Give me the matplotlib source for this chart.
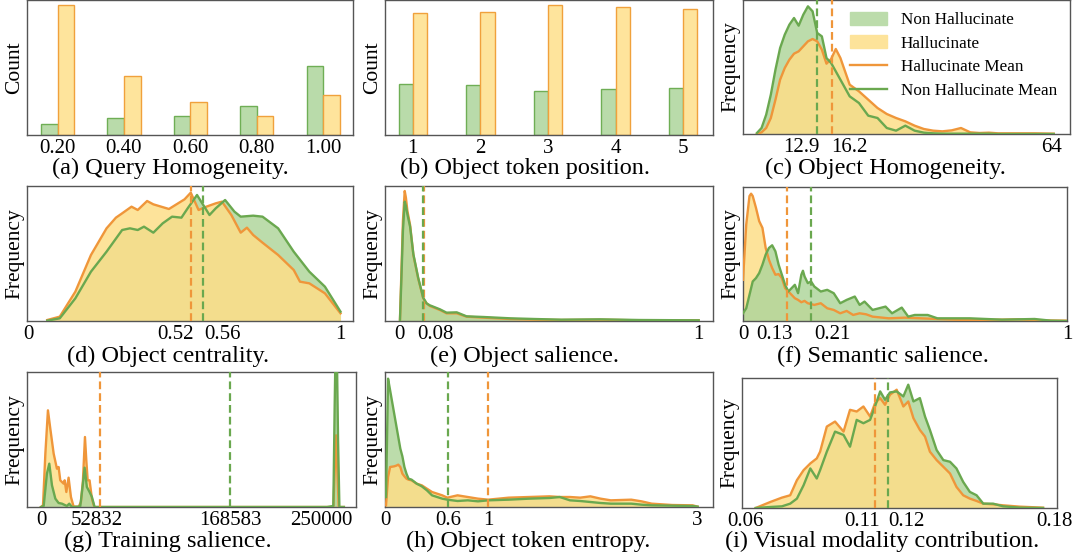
import matplotlib

matplotlib.use("Agg")
import matplotlib.pyplot as plt
from matplotlib.lines import Line2D
from matplotlib.patches import Patch
from matplotlib.transforms import ScaledTranslation

plt.rcParams["font.family"] = ["Liberation Serif", "DejaVu Serif"]

# ---------------- data ----------------
# (a) Query Homogeneity, counts
query_labels = ["0.20", "0.40", "0.60", "0.80", "1.00"]
query_non = [33, 50, 57, 87, 207]
query_hal = [388, 177, 99, 57, 120]

# (b) Object token position, counts
position_labels = ["1", "2", "3", "4", "5"]
position_non = [153, 150, 130, 136, 141]
position_hal = [365, 368, 388, 383, 377]

# (c) Object Homogeneity, density
homog_x = [0, 1, 2, 3, 4, 5, 6, 7, 8, 9, 10, 11, 12, 13, 14, 15, 16, 17, 18, 19, 20,
           22, 24, 26, 28, 30, 32, 34, 36, 38, 40, 42, 44, 46, 48, 50, 52, 56, 60, 64]
homog_non = [3, 18, 58, 118, 193, 258, 298, 328, 348, 325, 358, 383, 368, 303, 293, 228, 213, 188, 163, 138, 113,
             93, 55, 48, 18, 10, 25, 10, 4, 2, 1, 1, 1, 1, 1, 1, 0, 0, 0, 0]
homog_hal = [0, 5, 18, 48, 103, 163, 198, 223, 241, 248, 263, 278, 285, 278, 253, 211, 225, 255, 228, 188, 148,
             128, 103, 78, 60, 48, 38, 25, 15, 10, 8, 11, 18, 5, 3, 4, 2, 2, 2, 1]
homog_means = (16.2, 12.9)

# (d) Object centrality
central_x_hal = [0.06, 0.1, 0.15, 0.2, 0.25, 0.28, 0.3, 0.33, 0.35, 0.38, 0.4, 0.45, 0.5, 0.52, 0.545,
                 0.57, 0.6, 0.62, 0.65, 0.68, 0.7, 0.72, 0.75, 0.8, 0.85, 0.87, 0.9, 0.95, 1.0]
central_hal = [3, 13, 88, 198, 278, 310, 323, 343, 333, 360, 350, 336, 365, 385, 333,
               343, 353, 358, 318, 265, 280, 258, 235, 198, 153, 118, 113, 83, 23]
central_x_non = [0.06, 0.1, 0.15, 0.2, 0.25, 0.3, 0.325, 0.35, 0.37, 0.4, 0.43, 0.46, 0.49, 0.51,
                 0.54, 0.56, 0.58, 0.6, 0.63, 0.66, 0.68, 0.72, 0.75, 0.8, 0.85, 0.9, 0.95, 1.0]
central_non = [1, 8, 68, 148, 208, 273, 278, 273, 283, 265, 293, 313, 310, 338,
               378, 348, 318, 338, 363, 328, 313, 316, 313, 278, 208, 148, 103, 28]
central_means = (0.52, 0.56)

# (e) Object salience
obj_sal_x = [0, 0.005, 0.01, 0.016, 0.02, 0.025, 0.034, 0.045, 0.061, 0.078, 0.089, 0.1, 0.106,
             0.12, 0.134, 0.156, 0.19, 0.223, 0.28, 0.37, 0.45, 0.54, 0.67, 0.8, 1.0]
obj_sal_hal = [0, 150, 300, 390, 370, 330, 288, 198, 128, 68, 53, 45, 43,
               38, 33, 23, 23, 13, 10, 6, 4, 3, 4, 2, 2]
obj_sal_non = [0, 130, 270, 358, 345, 320, 283, 200, 130, 70, 53, 47, 45,
               40, 35, 25, 26, 14, 12, 8, 6, 4, 5, 3, 2]
obj_sal_means = (0.079, 0.078)

# (f) Semantic salience
sem_x_hal = [0, 0.01, 0.02, 0.025, 0.03, 0.04, 0.05, 0.06, 0.07, 0.08, 0.09, 0.1, 0.11, 0.12, 0.13,
             0.14, 0.15, 0.16, 0.17, 0.18, 0.19, 0.2, 0.22, 0.24, 0.26, 0.28, 0.3, 0.32, 0.34, 0.36,
             0.38, 0.4, 0.45, 0.5, 0.55, 0.6, 0.65, 0.7, 0.8, 0.85, 0.9, 1.0]
sem_hal = [123, 288, 373, 380, 373, 338, 298, 278, 218, 183, 158, 138, 140, 128, 98,
           88, 78, 68, 63, 56, 60, 53, 48, 53, 38, 33, 23, 30, 18, 23,
           20, 13, 8, 10, 8, 6, 4, 3, 4, 5, 2, 1]
sem_x_non = [0, 0.01, 0.02, 0.03, 0.04, 0.05, 0.06, 0.07, 0.08, 0.09, 0.1, 0.11, 0.12, 0.13, 0.14,
             0.15, 0.16, 0.17, 0.18, 0.185, 0.19, 0.2, 0.21, 0.22, 0.24, 0.26, 0.28, 0.3, 0.32, 0.345,
             0.36, 0.375, 0.4, 0.44, 0.46, 0.49, 0.51, 0.53, 0.57, 0.6, 0.7, 0.8, 0.9, 0.95, 1.0]
sem_non = [23, 38, 78, 118, 128, 143, 168, 198, 218, 226, 208, 168, 138, 108, 88,
           98, 108, 83, 138, 150, 133, 113, 118, 103, 88, 93, 83, 53, 63, 73,
           48, 58, 33, 43, 23, 40, 13, 18, 18, 8, 8, 4, 6, 1, 0]
sem_means = (0.135, 0.211)

# (g) Training salience
train_x_hal = [0, 1800, 3900, 6200, 8300, 11300, 14200, 15700, 17200, 20200,
               21100, 22600, 24600, 26700, 29000, 33500, 35600, 37400, 39200, 40400,
               41600, 43300, 45400, 47500, 50000, 255000, 260600, 261800, 263000, 264200,
               265400, 270000]
train_hal = [0, 5, 160, 290, 235, 160, 115, 120, 80, 70,
             80, 45, 88, 30, 2, 0, 15, 80, 210, 140,
             80, 80, 25, 0, 0, 0, 0, 108, 215, 108,
             0, 0]
train_x_non = [0, 2400, 5300, 7400, 9800, 12800, 15700, 18700, 23100, 25200,
               27600, 30000, 35000, 37400, 38900, 40900, 43300, 45400, 47800, 50000,
               255000, 260600, 261800, 262700, 263600, 264800, 266000, 270000]
train_non = [0, 3, 100, 130, 65, 25, 12, 10, 3, 10,
             0, 0, 2, 70, 118, 60, 45, 30, 0, 0,
             0, 3, 305, 500, 500, 200, 0, 0]
train_means = (52832, 168583)

# (h) Object token entropy
entropy_x = [0, 0.02, 0.04, 0.06, 0.08, 0.1, 0.12, 0.14, 0.16, 0.18,
             0.2, 0.22, 0.25, 0.3, 0.35, 0.4, 0.45, 0.5, 0.55, 0.6,
             0.7, 0.8, 0.9, 1.0, 1.2, 1.4, 1.6, 1.7, 1.8, 1.9,
             2.0, 2.1, 2.2, 2.4, 2.5, 2.6, 2.8, 3.0, 3.05]
entropy_non = [30, 385, 350, 315, 280, 245, 210, 175, 152, 120,
               100, 85, 82, 70, 62, 50, 35, 30, 25, 22,
               18, 20, 17, 20, 22, 25, 27, 30, 20, 18,
               15, 12, 10, 10, 7, 5, 4, 3, 1]
entropy_hal = [5, 90, 120, 121, 122, 124, 127, 120, 100, 92,
               85, 82, 80, 70, 65, 55, 45, 40, 35, 28,
               35, 30, 25, 22, 28, 30, 32, 30, 30, 28,
               32, 25, 20, 22, 17, 10, 6, 5, 1]
entropy_means = (1.0, 0.609)

# (i) Visual modality contribution
visual_x = [0.064, 0.0697, 0.0742, 0.0774, 0.08, 0.0826, 0.0852, 0.0877, 0.089, 0.0916,
            0.0948, 0.0981, 0.1006, 0.1032, 0.1058, 0.1084, 0.1103, 0.1123, 0.1142, 0.1161,
            0.1187, 0.1213, 0.1232, 0.1252, 0.1277, 0.1297, 0.1316, 0.1342, 0.1368, 0.1394,
            0.1419, 0.1445, 0.1471, 0.1497, 0.1523, 0.1561, 0.16, 0.1665, 0.1755]
visual_hal = [0, 18, 31, 38, 83, 113, 133, 148, 168, 243,
              258, 228, 293, 288, 303, 273, 313, 328, 308, 338,
              353, 303, 318, 268, 233, 213, 168, 143, 123, 103,
              63, 38, 28, 21, 13, 11, 8, 4, 1]
visual_non = [0, 3, 5, 13, 28, 68, 118, 88, 113, 168,
              228, 218, 183, 263, 253, 263, 303, 348, 323, 345,
              348, 333, 368, 318, 328, 273, 233, 173, 143, 138,
              118, 78, 48, 38, 13, 13, 5, 1, 0]
visual_means = (0.1103, 0.1152)

# ---------------- style ----------------
GREEN_LINE = "#6aa84f"
ORANGE_LINE = "#ef963a"
GREEN_FILL = "#bcdcab"
YELLOW_FILL = "#fde39a"
GREEN_FILL_TOP = "#b0d69c"
YELLOW_FILL_TOP = "#fdde88"
BAR_GREEN, BAR_GREEN_EDGE = "#b9dbaa", "#6fae55"
BAR_YELLOW, BAR_YELLOW_EDGE = "#fee49c", "#f0a13c"
SPINE = "#555555"

W, H = 1074, 560
fig = plt.figure(figsize=(W / 100, H / 100), dpi=100)


def add_axes(left, top, right, bottom):
    return fig.add_axes([left / W, 1 - bottom / H, (right - left) / W, (bottom - top) / H])


def style_axes(ax, ylabel):
    for spine in ax.spines.values():
        spine.set_color(SPINE)
        spine.set_linewidth(1.0)
    ax.set_yticks([])
    ax.tick_params(axis="x", length=0, labelsize=15, pad=3)
    ax.set_ylabel(ylabel, fontsize=15.5, labelpad=2)


def shift_labels(ax, shifts):
    for label, dx in zip(ax.get_xticklabels(), shifts):
        label.set_transform(label.get_transform() + ScaledTranslation(dx / 100, 0, fig.dpi_scale_trans))


def bar_panel(ax, labels, non, hal, width, xlim):
    idx = list(range(len(labels)))
    ax.bar([i - width / 2 for i in idx], non, width, color=BAR_GREEN, edgecolor=BAR_GREEN_EDGE, linewidth=1)
    ax.bar([i + width / 2 for i in idx], hal, width, color=BAR_YELLOW, edgecolor=BAR_YELLOW_EDGE, linewidth=1)
    ax.set_xticks(idx, labels)
    ax.set_xlim(*xlim)
    ax.set_ylim(0, 403)
    style_axes(ax, "Count")


def density_panel(ax, x_hal, y_hal, x_non, y_non, means, ticks, labels, shifts, xlim, ylim, green_top):
    if green_top:
        ax.fill_between(x_hal, y_hal, color=YELLOW_FILL, linewidth=0, zorder=1)
        ax.fill_between(x_non, y_non, color=GREEN_FILL_TOP, alpha=0.85, linewidth=0, zorder=2)
    else:
        ax.fill_between(x_non, y_non, color=GREEN_FILL, linewidth=0, zorder=1)
        ax.fill_between(x_hal, y_hal, color=YELLOW_FILL_TOP, alpha=0.85, linewidth=0, zorder=2)
    ax.plot(x_hal, y_hal, color=ORANGE_LINE, lw=1.7, zorder=3)
    ax.plot(x_non, y_non, color=GREEN_LINE, lw=1.7, zorder=4)
    ax.axvline(means[0], color=ORANGE_LINE, lw=1.6, linestyle=(0, (3.5, 1.8)), zorder=5)
    ax.axvline(means[1], color=GREEN_LINE, lw=1.6, linestyle=(0, (3.5, 1.8)), zorder=5)
    ax.set_xlim(*xlim)
    ax.set_ylim(*ylim)
    ax.set_xticks(ticks, labels)
    style_axes(ax, "Frequency")
    shift_labels(ax, shifts)


# row 1
ax_a = add_axes(27, 0, 353, 135)
bar_panel(ax_a, query_labels, query_non, query_hal, 0.25, (-0.46, 4.45))

ax_b = add_axes(385, 0, 713, 135)
bar_panel(ax_b, position_labels, position_non, position_hal, 0.21, (-0.41, 4.44))

ax_c = add_axes(743, 0, 1070, 134)
density_panel(ax_c, homog_x, homog_hal, homog_x, homog_non, homog_means,
              [12.9, 16.2, 64], ["12.9", "16.2", "64"], [-15, 17, -2],
              (-3.0, 67.5), (0, 402), False)
legend_handles = [
    Patch(facecolor=GREEN_FILL, edgecolor=GREEN_FILL),
    Patch(facecolor=YELLOW_FILL, edgecolor=YELLOW_FILL),
    Line2D([], [], color=ORANGE_LINE, lw=1.7),
    Line2D([], [], color=GREEN_LINE, lw=1.7),
]
ax_c.legend(legend_handles, ["Non Hallucinate", "Hallucinate", "Hallucinate Mean", "Non Hallucinate Mean"],
            loc="upper left", bbox_to_anchor=(0.305, 0.965), frameon=False, fontsize=12.3,
            handlelength=2.2, handleheight=0.8, handletextpad=0.8, labelspacing=0.42, borderaxespad=0)

# row 2
ax_d = add_axes(27, 186, 353, 321)
density_panel(ax_d, central_x_hal, central_hal, central_x_non, central_non, central_means,
              [0, 0.52, 0.56, 1], ["0", "0.52", "0.56", "1"], [0, -15, 19, 0],
              (-0.005, 1.04), (0, 405), False)

ax_e = add_axes(385, 186, 713, 321)
density_panel(ax_e, obj_sal_x, obj_sal_hal, obj_sal_x, obj_sal_non, obj_sal_means,
              [0, 0.078, 1], ["0", "0.08", "1"], [0, 12, 0],
              (-0.05, 1.048), (0, 405), True)

ax_f = add_axes(743, 187, 1067, 321)
density_panel(ax_f, sem_x_hal, sem_hal, sem_x_non, sem_non, sem_means,
              [0, 0.135, 0.211, 1], ["0", "0.13", "0.21", "1"], [0, -12, 21, 0],
              (0, 1), (0, 400), True)

# row 3
ax_g = add_axes(27, 372, 356, 507)
density_panel(ax_g, train_x_hal, train_hal, train_x_non, train_non, train_means,
              [0, 52832, 168583, 250000], ["0", "52832", "168583", "250000"], [0, -4, 0, 0],
              (-12467, 280800), (0, 405), True)

ax_h = add_axes(385, 372, 713, 507)
density_panel(ax_h, entropy_x, entropy_hal, entropy_x, entropy_non, entropy_means,
              [0, 0.609, 1.0, 3], ["0", "0.6", "1", "3"], [-1, 0, 0, 5],
              (-0.01, 3.2), (0, 405), False)

ax_i = add_axes(742, 378, 1057, 508)
density_panel(ax_i, visual_x, visual_hal, visual_x, visual_non, visual_means,
              [0.06, 0.1103, 0.1152, 0.18], ["0.06", "0.11", "0.12", "0.18"], [0, -13, 19, 0],
              (0.0587, 0.1809), (0, 388), False)

# captions
captions = [
    (170, 168, "(a) Query Homogeneity."),
    (525, 168, "(b) Object token position."),
    (885, 168, "(c) Object Homogeneity."),
    (168, 356, "(d) Object centrality."),
    (525, 356, "(e) Object salience."),
    (883, 356, "(f) Semantic salience."),
    (168, 541, "(g) Training salience."),
    (528, 541, "(h) Object token entropy."),
    (882, 541, "(i) Visual modality contribution."),
]
for cx, cy, text in captions:
    fig.text(cx / W, 1 - cy / H, text, ha="center", va="center", fontsize=17.5)

fig.savefig("out.png", dpi=100)
